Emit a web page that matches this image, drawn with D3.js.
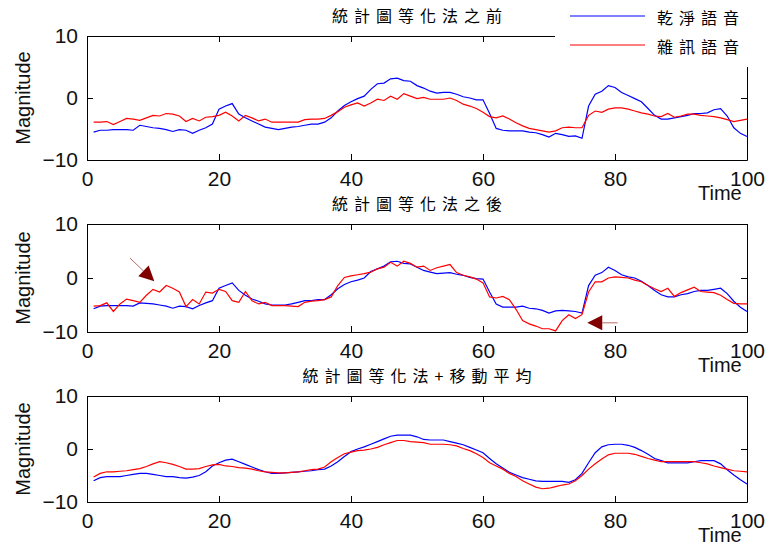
<!DOCTYPE html>
<html>
<head>
<meta charset="utf-8">
<script src="https://cdn.jsdelivr.net/npm/d3@7"></script>
<style>
  body { margin: 0; background: #fff; }
  svg { display: block; }
</style>
</head>
<body>
<svg id="chart"></svg>
<script>
// values, one per time step (1..100)
const beforeClean = [
  -5.5, -5.2, -5.2, -5.1, -5.1, -5.1, -5.2, -4.4, -4.6, -4.8,
  -4.9, -5.1, -5.4, -5.1, -5.2, -5.7, -5.2, -4.8, -4.2, -1.8,
  -1.3, -0.9, -2.6, -3.2, -3.7, -4.2, -4.7, -4.9, -5.1, -4.9,
  -4.7, -4.6, -4.4, -4.2, -4.2, -3.9, -3.2, -2.1, -1.2, -0.6,
  -0.1, 0.3, 1.4, 2.3, 2.4, 3.1, 3.2, 2.8, 2.7, 2.0,
  1.6, 1.1, 0.8, 0.9, 0.9, 0.6, 0.2, 0.0, -0.3, -0.3,
  -2.5, -4.9, -5.2, -5.3, -5.3, -5.3, -5.5, -5.6, -5.9, -6.3,
  -5.7, -5.9, -6.2, -6.1, -6.5, -1.3, 0.6, 1.1, 2.0, 1.7,
  0.9, 0.4, -0.1, -0.6, -1.7, -2.8, -3.4, -3.4, -3.2, -3.0,
  -2.8, -2.5, -2.5, -2.4, -1.9, -1.7, -2.9, -4.8, -5.7, -6.2
];
const beforeNoisy = [
  -3.9, -3.9, -3.8, -4.3, -3.8, -3.3, -3.4, -3.6, -3.2, -2.8,
  -2.9, -2.5, -2.6, -2.9, -3.8, -3.3, -3.7, -3.1, -3.0, -2.8,
  -2.3, -2.9, -3.7, -2.8, -3.2, -3.7, -3.4, -3.9, -3.9, -3.9,
  -3.9, -3.9, -3.5, -3.4, -3.4, -3.3, -2.8, -2.2, -1.5, -1.1,
  -0.8, -1.3, -0.8, -0.2, -0.4, 0.3, -0.2, 0.7, 0.3, -0.1,
  0.1, -0.2, -0.2, -0.2, 0.0, -0.4, -1.0, -1.3, -1.7, -2.3,
  -3.0, -3.2, -2.9, -3.4, -4.0, -4.5, -4.9, -5.1, -5.3, -5.5,
  -5.3, -4.8, -4.7, -4.8, -4.8, -2.8, -2.1, -2.3, -1.8, -1.6,
  -1.6, -1.8, -2.1, -2.4, -2.6, -2.9, -3.0, -2.5, -3.1, -2.9,
  -2.6, -2.6, -2.8, -2.9, -3.0, -3.2, -3.5, -3.8, -3.6, -3.4
];
const afterClean = [
  -5.7, -5.2, -5.1, -5.1, -5.1, -5.1, -5.2, -4.6, -4.7, -4.8,
  -5.0, -5.2, -5.6, -5.2, -5.3, -5.7, -5.1, -4.6, -4.2, -1.9,
  -1.4, -0.9, -2.3, -3.2, -3.9, -4.3, -4.8, -5.0, -5.0, -5.0,
  -4.8, -4.5, -4.2, -4.2, -4.0, -4.0, -3.1, -2.0, -1.2, -0.7,
  -0.4, 0.0, 1.2, 1.7, 2.2, 3.0, 3.1, 2.7, 2.6, 2.0,
  1.4, 1.1, 0.8, 0.9, 1.0, 0.7, 0.5, 0.1, -0.1, -0.2,
  -2.6, -4.8, -5.4, -5.4, -5.4, -5.2, -5.6, -5.7, -6.0, -6.5,
  -6.1, -6.0, -6.1, -6.2, -6.5, -1.4, 0.5, 1.0, 2.0, 1.4,
  0.6, 0.2, 0.0, -0.6, -1.4, -2.3, -3.1, -3.5, -3.5, -3.1,
  -2.9, -2.5, -2.3, -2.3, -2.1, -1.9, -2.9, -4.3, -5.4, -6.2
];
const afterNoisy = [
  -5.2, -5.1, -4.6, -6.2, -4.8, -3.9, -4.2, -4.5, -3.2, -2.1,
  -2.6, -1.4, -1.9, -2.6, -5.3, -4.0, -4.8, -2.6, -2.8, -2.1,
  -2.5, -4.2, -4.5, -2.5, -4.2, -4.8, -4.5, -5.1, -5.1, -5.1,
  -5.2, -5.3, -4.5, -4.3, -4.2, -4.0, -3.5, -1.4, 0.1, 0.4,
  0.6, 0.8, 1.1, 1.7, 2.0, 2.9, 2.2, 3.1, 2.7, 2.0,
  2.2, 1.4, 1.9, 2.2, 2.5, 1.0, 0.5, 0.2, -0.2, -0.9,
  -3.5, -3.7, -3.4, -4.0, -5.8, -7.9, -8.5, -8.9, -9.4, -9.4,
  -9.8, -7.9, -6.8, -7.5, -6.8, -2.6, -0.7, -0.7, 0.0, 0.2,
  0.1, 0.0, -0.4, -0.7, -1.4, -2.0, -2.5, -1.9, -3.4, -2.7,
  -2.2, -1.7, -2.5, -2.6, -2.7, -3.2, -4.0, -4.7, -4.8, -4.8
];
const smoothClean = [
  -6.0, -5.4, -5.2, -5.2, -5.2, -5.0, -4.8, -4.6, -4.6, -4.8,
  -5.0, -5.2, -5.2, -5.4, -5.5, -5.3, -5.0, -4.3, -3.2, -2.6,
  -2.1, -1.9, -2.4, -2.9, -3.4, -3.9, -4.3, -4.6, -4.6, -4.5,
  -4.4, -4.3, -4.2, -4.1, -3.9, -3.8, -3.2, -2.4, -1.4, -0.5,
  0.0, 0.4, 0.9, 1.4, 1.9, 2.4, 2.6, 2.6, 2.6, 2.3,
  1.8, 1.7, 1.7, 1.7, 1.4, 1.1, 0.8, 0.3, -0.2, -0.7,
  -1.8, -2.8, -3.6, -4.4, -4.9, -5.4, -5.7, -6.0, -6.1, -6.1,
  -6.1, -6.1, -6.3, -5.8, -4.6, -2.6, -0.7, 0.4, 0.8, 0.9,
  0.9, 0.7, 0.3, -0.3, -1.0, -1.8, -2.2, -2.6, -2.6, -2.6,
  -2.6, -2.4, -2.2, -2.2, -2.2, -2.8, -3.9, -4.9, -5.8, -6.6
];
const smoothNoisy = [
  -5.3, -4.6, -4.3, -4.3, -4.2, -4.1, -3.9, -3.7, -3.3, -2.8,
  -2.4, -2.6, -2.9, -3.3, -3.8, -3.8, -3.7, -3.3, -3.0, -2.9,
  -3.2, -3.3, -3.5, -3.6, -3.8, -4.1, -4.3, -4.4, -4.5, -4.5,
  -4.4, -4.3, -4.1, -3.9, -3.8, -3.4, -2.4, -1.6, -0.9, -0.6,
  -0.3, -0.2, 0.0, 0.3, 0.8, 1.2, 1.6, 1.6, 1.4, 1.3,
  1.2, 0.9, 0.9, 0.9, 0.8, 0.6, 0.1, -0.3, -0.9, -1.6,
  -2.6, -3.2, -3.8, -4.6, -5.2, -6.0, -6.6, -7.2, -7.5, -7.4,
  -7.1, -6.8, -6.6, -6.0, -5.0, -3.8, -2.8, -1.9, -1.1, -0.8,
  -0.8, -0.8, -1.0, -1.4, -1.8, -2.1, -2.4, -2.4, -2.4, -2.4,
  -2.4, -2.4, -2.6, -2.8, -3.2, -3.5, -3.8, -4.1, -4.2, -4.3
];

const titles = ["統計圖等化法之前", "統計圖等化法之後", "統計圖等化法+移動平均"];
const legendLabels = ["乾淨語音", "雜訊語音"];
const xTicks = [0, 20, 40, 60, 80, 100];
const yTicks = [-10, 0, 10];
// arrows drawn on the second panel, in data units
const arrowNotes = [
  { from: [6.5, 3.7], to: [10.2, -0.6] },
  { from: [80.4, -8.3], to: [75.8, -8.3] }
];

const width = 767, height = 547;
const seriesColors = ["#0000ff", "#ff0000"];
const latin = "'Liberation Sans', Arial, sans-serif";
const cjk = "'Noto Sans CJK TC', 'Noto Sans CJK SC', sans-serif";

// plot boxes, one per panel
const panels = [
  { top: 36, bottom: 160, series: [beforeClean, beforeNoisy] },
  { top: 224, bottom: 332, series: [afterClean, afterNoisy] },
  { top: 396, bottom: 502, series: [smoothClean, smoothNoisy] }
];
const left = 87, right = 747;

let svg = d3.select("#chart")
    .attr("width", width)
    .attr("height", height)
    .style("background", "#fff");

const xScale = d3.scaleLinear().domain([0, 100]).range([left, right]);

panels.forEach((p, i) => {
    p.yScale = d3.scaleLinear().domain([-10, 10]).range([p.bottom, p.top]);
    let yScale = p.yScale;

    let line = d3.line()
        .x((d, k) => xScale(k + 1))
        .y(d => yScale(d));

    // data lines
    p.series.forEach((s, j) => {
        svg.append("path")
            .datum(s)
            .attr("fill", "none")
            .attr("stroke", seriesColors[j])
            .attr("stroke-width", 1.2)
            .attr("d", line);
    });

    // frame with inward ticks on all four sides
    let styleAxis = g => {
        g.attr("font-family", latin).attr("font-size", 21);
        g.selectAll("path, line").attr("stroke", "#000").attr("stroke-width", 1);
        g.selectAll("text").attr("fill", "#111");
    };
    svg.append("g")
        .attr("transform", "translate(0," + p.bottom + ")")
        .call(d3.axisBottom(xScale).tickValues(xTicks).tickSizeInner(-6).tickSizeOuter(0).tickPadding(11))
        .call(styleAxis);
    svg.append("g")
        .attr("transform", "translate(0," + p.top + ")")
        .call(d3.axisTop(xScale).tickValues(xTicks).tickSizeInner(-6).tickSizeOuter(0).tickFormat(""))
        .call(styleAxis);
    svg.append("g")
        .attr("transform", "translate(" + left + ",0)")
        .call(d3.axisLeft(yScale).tickValues(yTicks).tickSizeInner(-6).tickSizeOuter(0).tickPadding(9))
        .call(styleAxis);
    svg.append("g")
        .attr("transform", "translate(" + right + ",0)")
        .call(d3.axisRight(yScale).tickValues(yTicks).tickSizeInner(-6).tickSizeOuter(0).tickFormat(""))
        .call(styleAxis);

    // title
    svg.append("text")
        .attr("x", (left + right) / 2 + 3)
        .attr("y", p.top - 21)
        .attr("text-anchor", "middle")
        .attr("dominant-baseline", "central")
        .attr("font-family", cjk)
        .attr("font-size", 16)
        .attr("letter-spacing", 6)
        .attr("fill", "#000")
        .text(titles[i]);

    // y label
    svg.append("text")
        .attr("transform", "translate(23," + (p.top + p.bottom) / 2 + ") rotate(-90)")
        .attr("text-anchor", "middle")
        .attr("dominant-baseline", "central")
        .attr("font-family", latin)
        .attr("font-size", 20)
        .attr("fill", "#111")
        .text("Magnitude");

    // x label, overlapping the last tick label like the original
    svg.append("text")
        .attr("x", xScale(100) - 49)
        .attr("y", p.bottom + 40)
        .attr("font-family", latin)
        .attr("font-size", 20)
        .attr("fill", "#111")
        .text("Time");
});

// arrows on the second panel
let y2 = panels[1].yScale;
arrowNotes.forEach(a => {
    let tx = xScale(a.to[0]), ty = y2(a.to[1]);
    let fx = xScale(a.from[0]), fy = y2(a.from[1]);
    let len = Math.hypot(tx - fx, ty - fy);
    let ux = (tx - fx) / len, uy = (ty - fy) / len;
    let headLen = 15, half = 7.5;
    let bx = tx - ux * headLen, by = ty - uy * headLen;
    svg.append("line")
        .attr("x1", fx).attr("y1", fy)
        .attr("x2", bx).attr("y2", by)
        .attr("stroke", "#b86a6a")
        .attr("stroke-width", 1);
    svg.append("polygon")
        .attr("points", [
            [tx, ty],
            [bx - uy * half, by + ux * half],
            [bx + uy * half, by - ux * half]
        ].map(pt => pt.join(",")).join(" "))
        .attr("fill", "#800000");
});

// legend box covers the top right corner of the first panel
let legend = svg.append("g");
legend.append("rect")
    .attr("x", 555).attr("y", 0)
    .attr("width", width - 555).attr("height", 67)
    .attr("fill", "#fff");
legendLabels.forEach((label, i) => {
    let ly = [16, 45][i];
    legend.append("line")
        .attr("x1", 570).attr("x2", 645)
        .attr("y1", ly).attr("y2", ly)
        .attr("stroke", seriesColors[i])
        .attr("stroke-width", 1.2);
    legend.append("text")
        .attr("x", 657)
        .attr("y", ly + 1)
        .attr("dominant-baseline", "central")
        .attr("font-family", cjk)
        .attr("font-size", 16)
        .attr("letter-spacing", 6)
        .attr("fill", "#000")
        .text(label);
});
</script>
</body>
</html>
